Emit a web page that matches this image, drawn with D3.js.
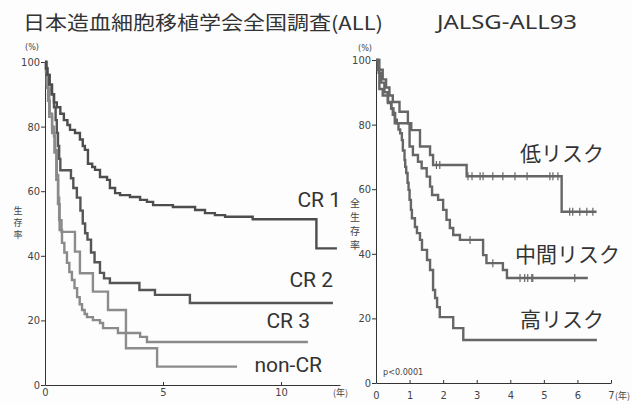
<!DOCTYPE html>
<html>
<head>
<meta charset="utf-8">
<script src="https://cdn.jsdelivr.net/npm/d3@7"></script>
<style>
  body { margin: 0; background: #fdfdfd; }
  .tick text { font-family: "Liberation Sans Narrow", "DejaVu Sans Condensed", sans-serif; fill: #444; }
  .domain, .tick line { stroke: #333; }
</style>
</head>
<body>
<svg id="chart" width="632" height="404"></svg>
<script>
// left panel: survival (%) by disease status, years
var cr1 = [[0,100],[0.04,98],[0.1,96],[0.18,93],[0.28,90],[0.38,87.5],[0.5,86],[0.65,84],[0.8,82],[0.95,80.5],
  [1.06,79],[1.27,78],[1.48,76],[1.6,74],[1.69,72.8],[1.82,68.5],[2.0,67.5],[2.12,66.6],[2.33,64.4],[2.63,63.5],
  [2.75,61],[2.97,59.4],[3.18,58.8],[3.6,58.2],[4.03,57.3],[4.32,56.7],[4.58,55.7],[5.42,55.1],[6.36,54.2],
  [6.78,53.2],[7.2,52.6],[7.63,52.1],[8.8,51.3],[11.5,42.3],[12.37,42.3]];
var cr2 = [[0,100],[0.05,98],[0.1,96],[0.2,93],[0.3,90],[0.38,86],[0.45,82],[0.5,78],[0.55,74],[0.6,70],[0.65,66.5],
  [1.1,64],[1.2,61],[1.35,58],[1.5,54],[1.6,50],[1.7,47],[1.8,45],[1.95,41],[2.1,38],[2.33,34.7],[2.5,33],
  [2.75,31.6],[4.0,29.4],[4.66,27.9],[6.14,25.4],[12.2,25.4]];
var cr3 = [[0,100],[0.04,97],[0.08,93],[0.13,88],[0.2,84],[0.3,78],[0.4,72],[0.48,63.5],[0.55,56],[0.62,48],
  [0.72,44],[0.82,41],[0.93,37.8],[1.03,35],[1.14,32.5],[1.25,30],[1.36,27.2],[1.47,25],[1.57,23.2],[1.68,22],
  [1.78,21],[2.03,20.1],[2.33,19.2],[2.46,17.6],[3.09,16.1],[4.03,14.9],[4.32,13.3],[11.14,13.3]];
var nonCR = [[0,100],[0.08,92],[0.18,83],[0.3,80],[0.38,77],[0.43,72.8],[0.5,65],[0.56,58],[0.6,51],[0.7,47.4],
  [1.27,41.3],[1.48,34.6],[2.03,28.9],[2.67,23.2],[3.43,11.4],[4.75,5.7],[8.14,5.7]];

// right panel: JALSG-ALL93 by risk group
var lowRisk = [[0,100],[0.1,97],[0.2,94],[0.3,91.5],[0.4,89],[0.5,87],[0.7,84],[0.95,80.4],[1.05,78.3],
  [1.31,73.2],[1.61,70.6],[1.7,67.5],[2.7,64],[5.53,53],[6.57,53]];
var lowCensor = [1.8,1.9,2.74,2.86,3.1,3.19,3.48,3.78,4.14,4.5,5.18,5.27,5.42,5.77,5.86,6.07,6.28,6.46];
var midRisk = [[0,100],[0.08,96],[0.15,93],[0.25,90],[0.35,87],[0.45,85],[0.5,83],[0.56,80.4],[1.0,73.2],
  [1.1,70.6],[1.25,68.5],[1.36,66.5],[1.51,63.9],[1.61,60.8],[1.67,58.2],[1.85,56.7],[2.0,53.6],[2.1,50.5],
  [2.2,48],[2.3,45.8],[2.5,44.3],[3.19,39.6],[3.29,37.1],[3.78,35],[3.9,32.5],[6.31,32.5]];
var midCensor = [2.8,3.48,4.29,4.43,4.52,4.64,4.67,5.92];
var highRisk = [[0,100],[0.05,97],[0.1,91],[0.2,89],[0.36,86.7],[0.46,85],[0.52,83.6],[0.57,81.5],[0.62,80.4],
  [0.67,78.5],[0.72,77.3],[0.77,75.2],[0.8,72],[0.85,69],[0.87,66.9],[0.9,65],[0.94,62],[0.97,59.8],[1.0,56.7],
  [1.04,53.6],[1.07,51],[1.16,48.3],[1.22,46.4],[1.31,44.3],[1.37,41.2],[1.52,38.1],[1.61,35],[1.7,28.8],
  [1.76,26.3],[1.82,23.5],[1.9,20.4],[2.3,17],[2.6,13.3],[6.58,13.3]];

var yTicks = [0, 20, 40, 60, 80, 100];
var leftXTicks = [0, 5, 10];
var rightXTicks = [0, 1, 2, 3, 4, 5, 6, 7];

var svg = d3.select("#chart");
var cjk = '"Noto Sans CJK JP", sans-serif';

// titles
svg.append("text").attr("x", 23).attr("y", 30)
  .attr("font-family", cjk).attr("font-size", 19).attr("fill", "#333")
  .attr("textLength", 360).attr("lengthAdjust", "spacingAndGlyphs")
  .text("日本造血細胞移植学会全国調査(ALL)");
svg.append("text").attr("x", 437).attr("y", 29)
  .attr("font-family", "Noto Sans, sans-serif").attr("font-size", 20).attr("fill", "#333")
  .attr("textLength", 140).attr("lengthAdjust", "spacingAndGlyphs")
  .text("JALSG-ALL93");

// scales
var xL = d3.scaleLinear().domain([0, 12.5]).range([45, 340]);
var yL = d3.scaleLinear().domain([0, 100]).range([385, 62]);
var xR = d3.scaleLinear().domain([0, 7]).range([376, 611]);
var yR = d3.scaleLinear().domain([0, 100]).range([383, 60]);

function drawAxes(x, y, xt, yt, padX) {
  svg.append("g").attr("transform", `translate(0,${y(0)})`)
    .call(d3.axisBottom(x).tickValues(xt).tickFormat(d3.format("d"))
      .tickSizeInner(-3).tickSizeOuter(0).tickPadding(padX))
    .call(g => g.selectAll("text").attr("font-size", 11));
  svg.append("g").attr("transform", `translate(${x(0)},0)`)
    .call(d3.axisLeft(y).tickValues(yt).tickSize(4).tickSizeOuter(0).tickPadding(1))
    .call(g => g.selectAll("text").attr("font-size", 11));
}
drawAxes(xL, yL, leftXTicks, yTicks, 3);
drawAxes(xR, yR, rightXTicks, yTicks, 8);

// "(年)" units
svg.append("text").attr("x", 333).attr("y", 396).attr("font-size", 9).attr("fill", "#444")
  .attr("font-family", cjk).text("(年)");
svg.append("text").attr("x", 615).attr("y", 399).attr("font-size", 9).attr("fill", "#444")
  .attr("font-family", cjk).attr("textLength", 15).attr("lengthAdjust", "spacingAndGlyphs").text("(年)");

// "(%)" units
svg.append("text").attr("x", 32).attr("y", 50).attr("text-anchor", "middle")
  .attr("font-size", 9).attr("fill", "#444").attr("font-family", "DejaVu Sans Condensed, sans-serif").text("(%)");
svg.append("text").attr("x", 365).attr("y", 51).attr("text-anchor", "middle")
  .attr("font-size", 9).attr("fill", "#444").attr("font-family", "DejaVu Sans Condensed, sans-serif").text("(%)");

// vertical y titles, one glyph per line
function vertical(label, x, y0, step, size) {
  svg.append("g").selectAll("text").data(Array.from(label)).enter().append("text")
    .attr("x", x).attr("y", (d, i) => y0 + i * step).attr("text-anchor", "middle")
    .attr("font-size", size).attr("fill", "#444").attr("font-family", cjk).text(d => d);
}
vertical("生存率", 18, 214, 12, 9);
vertical("全生存率", 355, 207, 14, 10);

// curves
var lineL = d3.line().x(d => xL(d[0])).y(d => yL(d[1])).curve(d3.curveStepAfter);
var lineR = d3.line().x(d => xR(d[0])).y(d => yR(d[1])).curve(d3.curveStepAfter);

var leftSeries = [
  { data: nonCR, color: "#8c8c8c" },
  { data: cr3, color: "#8a8a8a" },
  { data: cr2, color: "#555" },
  { data: cr1, color: "#4d4d4d" }
];
svg.append("g").selectAll("path").data(leftSeries).enter().append("path")
  .attr("d", d => lineL(d.data)).attr("fill", "none")
  .attr("stroke", d => d.color).attr("stroke-width", 2.4);

var rightSeries = [
  { data: highRisk, censor: [] },
  { data: midRisk, censor: midCensor },
  { data: lowRisk, censor: lowCensor }
];
svg.append("g").selectAll("path").data(rightSeries).enter().append("path")
  .attr("d", d => lineR(d.data)).attr("fill", "none")
  .attr("stroke", "#666").attr("stroke-width", 2.4);

// censor marks sit on the step value at that time
function stepValue(data, t) {
  var v = data[0][1];
  data.forEach(p => { if (p[0] <= t) v = p[1]; });
  return v;
}
rightSeries.forEach(s => {
  svg.append("g").selectAll("line").data(s.censor).enter().append("line")
    .attr("x1", t => xR(t)).attr("x2", t => xR(t))
    .attr("y1", t => yR(stepValue(s.data, t)) - 4)
    .attr("y2", t => yR(stepValue(s.data, t)) + 4)
    .attr("stroke", "#666").attr("stroke-width", 1.2);
});

// curve labels
var leftLabels = [
  { text: "CR 1", x: 341, y: 207 },
  { text: "CR 2", x: 333, y: 287 },
  { text: "CR 3", x: 310, y: 328 },
  { text: "non-CR", x: 322, y: 372 }
];
svg.append("g").selectAll("text").data(leftLabels).enter().append("text")
  .attr("x", d => d.x).attr("y", d => d.y).attr("text-anchor", "end")
  .attr("font-family", "Roboto, sans-serif").attr("font-size", 21).attr("fill", "#333")
  .text(d => d.text);

var rightLabels = [
  { text: "低リスク", x: 520, y: 161 },
  { text: "中間リスク", x: 515, y: 262 },
  { text: "高リスク", x: 520, y: 327 }
];
svg.append("g").selectAll("text").data(rightLabels).enter().append("text")
  .attr("x", d => d.x).attr("y", d => d.y)
  .attr("font-family", cjk).attr("font-size", 21).attr("fill", "#333")
  .text(d => d.text);

svg.append("text").attr("x", 383).attr("y", 375).attr("font-size", 9).attr("fill", "#444")
  .attr("font-family", "DejaVu Sans Condensed, sans-serif").text("p<0.0001");
</script>
</body>
</html>
